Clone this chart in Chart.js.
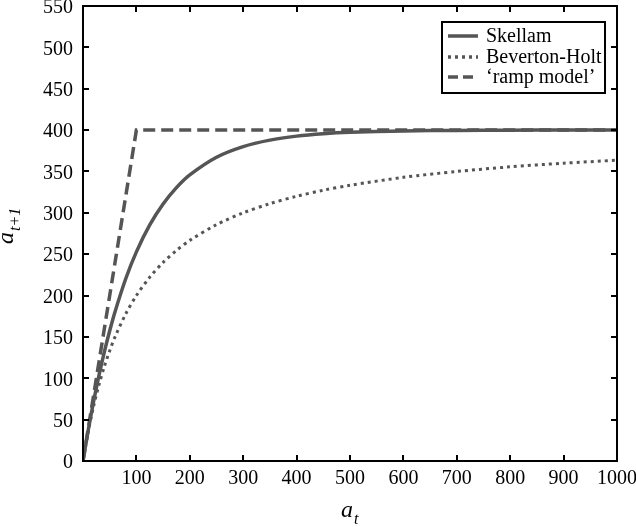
<!DOCTYPE html>
<html>
<head>
<meta charset="utf-8">
<script src="https://cdn.jsdelivr.net/npm/chart.js@4/dist/chart.umd.min.js"></script>
<style>
  body { margin: 0; background: #fff; }
  #wrap { width: 636px; height: 527px; }
</style>
</head>
<body>
<div id="wrap"><canvas id="chart" width="636" height="527"></canvas></div>
<script>
// values
const at_values = [0, 10, 20, 30, 40, 50, 60, 80, 100, 125, 150, 175, 200, 250, 300, 350, 400, 450, 500, 600, 700, 800, 900, 1000]
const skellam = [0, 38.1, 72.5, 103.7, 131.9, 157.4, 180.5, 220.3, 252.8, 285.4, 310.7, 330.5, 345.9, 367.2, 380.1, 387.9, 392.7, 395.6, 397.3, 399.0, 399.6, 399.9, 400, 400]
const beverton = [0, 36.4, 66.7, 92.3, 114.3, 133.3, 150, 177.8, 200, 222.2, 240, 254.5, 266.7, 285.7, 300, 311.1, 320, 327.3, 333.3, 342.9, 350, 355.6, 360, 363.6]
const ramp_x = [0, 100, 1000]
const ramp_y = [0, 400, 400]
const x_ticks = [0, 100, 200, 300, 400, 500, 600, 700, 800, 900, 1000]
const y_ticks = [0, 50, 100, 150, 200, 250, 300, 350, 400, 450, 500, 550]
const legend_labels = ['Skellam', 'Beverton-Holt', '\u2018ramp model\u2019']

const line_color = '#555555'
const serif = '"Liberation Serif", "DejaVu Serif", serif'

function points(xs, ys) {
    return xs.map((x, i) => ({ x: x, y: ys[i] }))
}

// frame, inward ticks, legend and axis titles
const framePlugin = {
    id: 'frame',
    afterDraw(chart) {
        const ctx = chart.ctx
        const area = chart.chartArea
        const xs = chart.scales.x
        const ys = chart.scales.y
        ctx.save()
        ctx.strokeStyle = '#000'
        ctx.lineWidth = 2
        ctx.strokeRect(area.left, area.top, area.right - area.left, area.bottom - area.top)
        ctx.beginPath()
        x_ticks.forEach(v => {
            const px = Math.round(xs.getPixelForValue(v))
            ctx.moveTo(px, area.bottom); ctx.lineTo(px, area.bottom - 6)
            ctx.moveTo(px, area.top); ctx.lineTo(px, area.top + 6)
        })
        y_ticks.forEach(v => {
            const py = Math.round(ys.getPixelForValue(v))
            ctx.moveTo(area.left, py); ctx.lineTo(area.left + 6, py)
            ctx.moveTo(area.right, py); ctx.lineTo(area.right - 6, py)
        })
        ctx.stroke()

        // legend
        const lx = 442, ly = 22, lw = 163, lh = 71
        ctx.fillStyle = '#fff'
        ctx.fillRect(lx, ly, lw, lh)
        ctx.strokeStyle = '#000'
        ctx.lineWidth = 2
        ctx.strokeRect(lx, ly, lw, lh)
        const dashes = [[], [3, 4], [10, 5]]
        const rows = [36, 57, 77]
        ctx.font = '20px ' + serif
        ctx.textBaseline = 'alphabetic'
        legend_labels.forEach((lab, i) => {
            ctx.strokeStyle = line_color
            ctx.lineWidth = 3.5
            ctx.setLineDash(dashes[i])
            ctx.beginPath()
            ctx.moveTo(448, rows[i]); ctx.lineTo(478, rows[i])
            ctx.stroke()
            ctx.setLineDash([])
            ctx.fillStyle = '#000'
            ctx.fillText(lab, 486, rows[i] + 6)
        })

        // axis titles
        ctx.fillStyle = '#000'
        ctx.font = 'italic 24px ' + serif
        ctx.fillText('a', 341, 517)
        let aw = ctx.measureText('a').width
        ctx.font = 'italic 16px ' + serif
        ctx.fillText('t', 341 + aw + 1, 524)

        ctx.translate(13, 244)
        ctx.rotate(-Math.PI / 2)
        ctx.font = 'italic 24px ' + serif
        ctx.fillText('a', 0, 0)
        aw = ctx.measureText('a').width
        ctx.font = 'italic 16px ' + serif
        ctx.fillText('t+1', aw + 1, 7)
        ctx.restore()
    }
}

new Chart(document.getElementById('chart'), {
    type: 'line',
    data: {
        datasets: [{
            label: legend_labels[0],
            data: points(at_values, skellam),
            borderColor: line_color,
            borderWidth: 3.5,
            pointRadius: 0,
            tension: 0.3
        }, {
            label: legend_labels[1],
            data: points(at_values, beverton),
            borderColor: line_color,
            borderWidth: 3,
            borderDash: [3, 4],
            pointRadius: 0,
            tension: 0.3
        }, {
            label: legend_labels[2],
            data: points(ramp_x, ramp_y),
            borderColor: line_color,
            borderWidth: 3.5,
            borderDash: [12, 6],
            pointRadius: 0,
            tension: 0
        }]
    },
    options: {
        responsive: false,
        animation: false,
        layout: { padding: { top: 6, right: 19, left: 0, bottom: 0 } },
        plugins: { legend: { display: false }, tooltip: { enabled: false } },
        scales: {
            x: {
                type: 'linear',
                min: 0, max: 1000,
                grid: { display: false, drawTicks: false },
                border: { display: false },
                afterFit: s => { s.height = 66; s.paddingLeft = 0; s.paddingRight = 0 },
                afterBuildTicks: s => { s.ticks = x_ticks.map(v => ({ value: v })) },
                ticks: {
                    color: '#000',
                    padding: 6,
                    font: { family: serif, size: 20 },
                    callback: v => v === 0 ? '' : String(v)
                }
            },
            y: {
                min: 0, max: 550,
                grid: { display: false, drawTicks: false },
                border: { display: false },
                afterFit: s => { s.width = 83; s.paddingTop = 0; s.paddingBottom = 0 },
                afterBuildTicks: s => { s.ticks = y_ticks.map(v => ({ value: v })) },
                ticks: {
                    color: '#000',
                    padding: 10,
                    labelOffset: 2,
                    font: { family: serif, size: 20 }
                }
            }
        }
    },
    plugins: [framePlugin]
});
</script>
</body>
</html>
